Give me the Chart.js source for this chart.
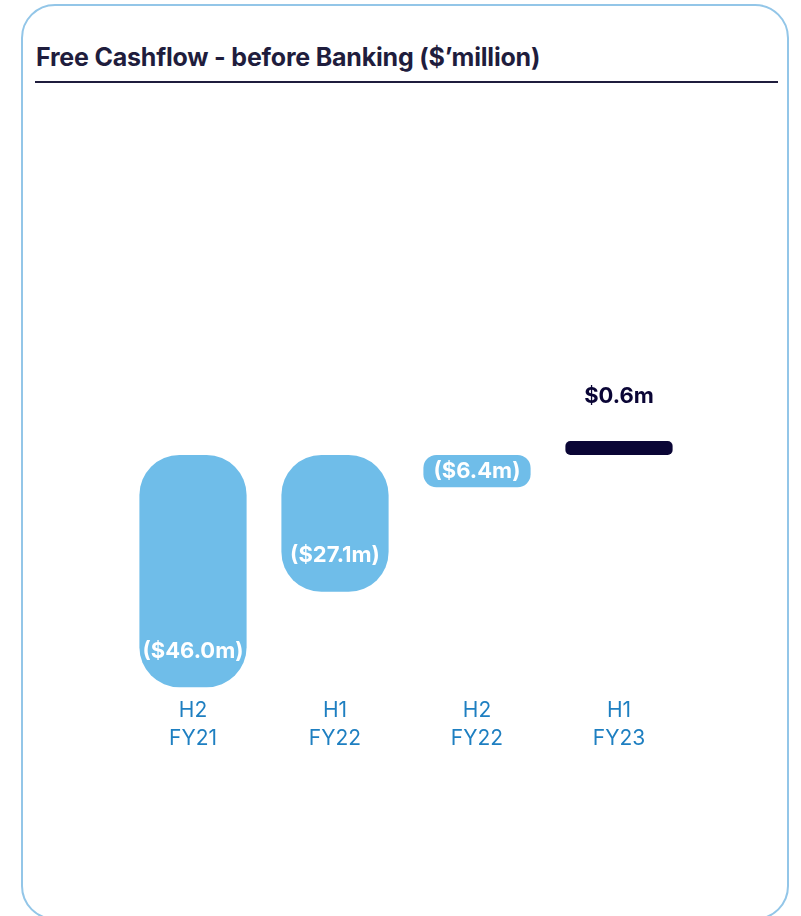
<!DOCTYPE html>
<html>
<head>
<meta charset="utf-8">
<script src="https://cdn.jsdelivr.net/npm/chart.js@4/dist/chart.umd.min.js"></script>
<style>
  html, body { margin: 0; padding: 0; background: #fff; }
  #wrap { position: relative; width: 801px; height: 916px; overflow: hidden; }
  #card {
    position: absolute; left: 21px; top: 4px; width: 764px; height: 912px;
    border: 2px solid #93c6e8; border-radius: 34px; box-sizing: content-box;
  }
  #title {
    position: absolute; left: 36px; top: 42px; margin: 0;
    font: 700 25px "Inter", sans-serif; color: #1f1d3d; letter-spacing: -0.2px;
  }
  #rule { position: absolute; left: 35px; top: 81px; width: 743px; height: 2px; background: #1f1d3d; }
  #chart { position: absolute; left: 0; top: 0; }
</style>
</head>
<body>
<div id="wrap">
  <div id="card"></div>
  <h1 id="title">Free Cashflow - before Banking ($’million)</h1>
  <div id="rule"></div>
  <canvas id="chart" width="801" height="916"></canvas>
</div>
<script>
const periods = [["H2", "FY21"], ["H1", "FY22"], ["H2", "FY22"], ["H1", "FY23"]];
const cashflow = [-46.0, -27.1, -6.4, 0.6];
const valueLabels = ["($46.0m)", "($27.1m)", "($6.4m)", "$0.6m"];

const BLUE = "#6fbde9";
const NAVY = "#0a0535";

// writes the value over or inside each bar
const barLabels = {
  id: "barLabels",
  afterDatasetsDraw(chart) {
    const ctx = chart.ctx;
    const bars = chart.getDatasetMeta(0).data;
    ctx.save();
    ctx.font = "700 22px Inter, sans-serif";
    ctx.textAlign = "center";
    ctx.textBaseline = "middle";
    bars.forEach((bar, i) => {
      const v = cashflow[i];
      let y;
      if (v >= 0) {
        ctx.fillStyle = NAVY;
        y = bar.y - 45;
      } else {
        ctx.fillStyle = "#ffffff";
        const h = bar.y - bar.base;
        y = h < 60 ? (bar.y + bar.base) / 2 : bar.y - 36;
      }
      ctx.fillText(valueLabels[i], bar.x, y);
    });
    ctx.restore();
  }
};

new Chart(document.getElementById("chart"), {
  type: "bar",
  data: {
    labels: periods,
    datasets: [{
      data: cashflow,
      backgroundColor: cashflow.map(v => v >= 0 ? NAVY : BLUE),
      borderRadius: [40, 40, 13, 5],
      borderSkipped: false,
      barPercentage: 0.755,
      categoryPercentage: 1,
      minBarLength: 14
    }]
  },
  options: {
    responsive: false,
    animation: false,
    layout: { padding: { left: 122, right: 111, top: 303.5, bottom: 158.6 } },
    plugins: { legend: { display: false }, tooltip: { enabled: false } },
    scales: {
      x: {
        grid: { display: false, drawTicks: false },
        border: { display: false },
        ticks: {
          color: "#1e7fc1",
          font: { family: "Inter", size: 21, lineHeight: 1.3 },
          padding: 0
        },
        afterFit(scale) { scale.height = 60; }
      },
      y: {
        display: false,
        min: -48,
        max: 30
      }
    }
  },
  plugins: [barLabels]
});
</script>
</body>
</html>
